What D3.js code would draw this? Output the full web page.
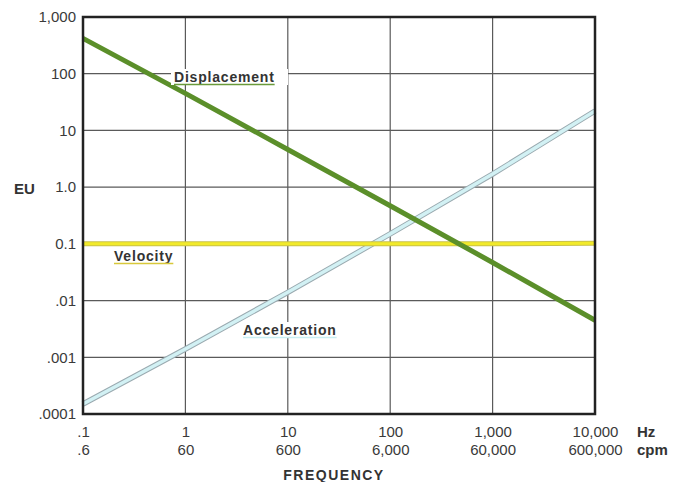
<!DOCTYPE html>
<html><head><meta charset="utf-8">
<script src="https://cdn.jsdelivr.net/npm/d3@7"></script>
<style>body{margin:0;background:#fff}svg{display:block}text{font-family:"Liberation Sans",Arial,sans-serif}</style>
</head><body><svg id="c" width="679" height="482"></svg>
<script>
const freqHz = [0.1, 1, 10, 100, 1000, 10000];
const hzLabels = ['.1', '1', '10', '100', '1,000', '10,000'];
const cpmLabels = ['.6', '60', '600', '6,000', '60,000', '600,000'];
const euTicks = [1000, 100, 10, 1, 0.1, 0.01, 0.001, 0.0001];
const euLabels = ['1,000', '100', '10', '1.0', '0.1', '.01', '.001', '.0001'];
const displacement = [420, 45, 4.6, 0.47, 0.047, 0.0045];
const velocity = [0.1, 0.1, 0.1, 0.1, 0.1, 0.102];
const acceleration = [0.00015, 0.0014, 0.014, 0.15, 1.7, 22];

const FONT = '"Liberation Sans",Arial,sans-serif';
const svg = d3.select('#c');
const x = d3.scaleLog().domain([0.1, 10000]).range([83, 595]);
const y = d3.scaleLog().domain([0.0001, 1000]).range([414, 17]);

// grid
const g = svg.append('g');
g.selectAll('.vg').data(freqHz.slice(1, -1)).enter().append('line')
  .attr('x1', d => x(d)).attr('x2', d => x(d)).attr('y1', y(1000)).attr('y2', y(0.0001))
  .attr('stroke', '#5a5a5a').attr('stroke-width', 1.2);
g.selectAll('.hg').data(euTicks.slice(1, -1)).enter().append('line')
  .attr('x1', x(0.1)).attr('x2', x(10000)).attr('y1', d => y(d)).attr('y2', d => y(d))
  .attr('stroke', '#5a5a5a').attr('stroke-width', 1.2);

// axes (labels)
const xa = svg.append('g').attr('transform', `translate(0,${y(0.0001)})`)
  .call(d3.axisBottom(x).tickValues(freqHz).tickFormat((d, i) => hzLabels[i]).tickSize(0).tickPadding(0));
xa.select('.domain').remove();
xa.selectAll('.tick text').attr('dy', null).attr('y', 23).style('font-size', '15px').attr('fill', '#3a3a3a').style('font-family', FONT);
xa.selectAll('.tick').append('text').attr('y', 41).attr('text-anchor', 'middle')
  .style('font-size', '15px').attr('fill', '#3a3a3a').style('font-family', FONT)
  .text((d, i) => cpmLabels[i]);

const ya = svg.append('g').attr('transform', `translate(${x(0.1)},0)`)
  .call(d3.axisLeft(y).tickValues(euTicks).tickFormat((d, i) => euLabels[i]).tickSize(0).tickPadding(7));
ya.select('.domain').remove();
ya.selectAll('.tick text').style('font-size', '15px').attr('fill', '#3a3a3a').style('font-family', FONT);

// series lines
const line = d3.line().x((d, i) => x(freqHz[i])).y(d => y(d));
svg.append('path').datum(acceleration).attr('d', line).attr('fill', 'none').attr('stroke', '#9aaab0').attr('stroke-width', 5.5);
svg.append('path').datum(acceleration).attr('d', line).attr('fill', 'none').attr('stroke', '#d2f1f4').attr('stroke-width', 3.5);
svg.append('path').datum(velocity).attr('d', line).attr('fill', 'none').attr('stroke', '#c9c24a').attr('stroke-width', 5);
svg.append('path').datum(velocity).attr('d', line).attr('fill', 'none').attr('stroke', '#f2ea2a').attr('stroke-width', 3);
svg.append('path').datum(displacement).attr('d', line).attr('fill', 'none').attr('stroke', '#5b8f2a').attr('stroke-width', 5);

// frame
svg.append('rect').attr('x', x(0.1)).attr('y', y(1000)).attr('width', x(10000) - x(0.1)).attr('height', y(0.0001) - y(1000))
  .attr('fill', 'none').attr('stroke', '#222').attr('stroke-width', 2.5);

// series labels
function label(txt, lx, ly, col, bx0, bx1) {
  const bg = svg.append('rect').attr('fill', '#fff');
  const t = svg.append('text').attr('x', lx).attr('y', ly).style('font-size', '14px').attr('font-weight', 'bold')
    .attr('fill', '#333').attr('letter-spacing', 0.8).text(txt);
  const w = t.node().getComputedTextLength();
  bg.attr('x', bx0 != null ? bx0 : lx - 2).attr('y', ly - 13).attr('width', (bx1 != null ? bx1 : lx + w + 2) - (bx0 != null ? bx0 : lx - 2)).attr('height', 16);
  svg.append('line').attr('x1', lx).attr('x2', lx + w).attr('y1', ly + 2.5).attr('y2', ly + 2.5).attr('stroke', col).attr('stroke-width', 1.6);
}
label('Displacement', 174, 82, '#6a9a3a', 171, 288);
label('Velocity', 114, 261, '#d8c83a');
label('Acceleration', 243, 335, '#c8eef2');

// axis titles
svg.append('text').attr('x', 14).attr('y', 194).style('font-size', '15px').attr('font-weight', 'bold').attr('fill', '#333').text('EU');
svg.append('text').attr('x', 637).attr('y', 437).style('font-size', '15px').attr('font-weight', 'bold').attr('fill', '#333').text('Hz');
svg.append('text').attr('x', 637).attr('y', 455).style('font-size', '15px').attr('font-weight', 'bold').attr('fill', '#333').text('cpm');
svg.append('text').attr('x', 334).attr('y', 480).attr('text-anchor', 'middle').style('font-size', '14px').attr('font-weight', 'bold')
  .attr('letter-spacing', 1.5).attr('fill', '#333').text('FREQUENCY');
</script></body></html>
